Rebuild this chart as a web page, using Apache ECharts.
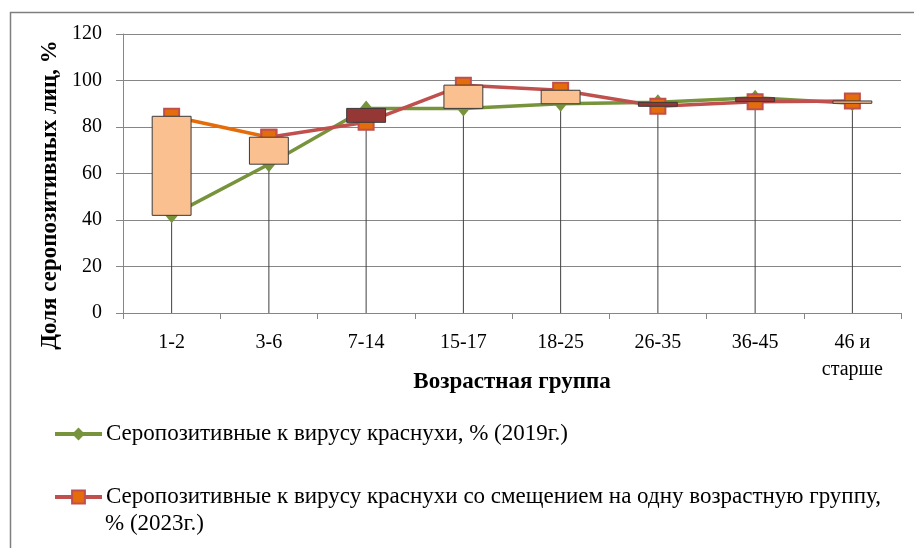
<!DOCTYPE html>
<html><head><meta charset="utf-8">
<script src="https://cdn.jsdelivr.net/npm/echarts@6/dist/echarts.min.js"></script>
<style>html,body{margin:0;padding:0;background:#fff}#c{width:914px;height:548px}</style>
</head><body><div id="c"></div>
<script>
const categories = ['1-2','3-6','7-14','15-17','18-25','26-35','36-45','46 и\nстарше'];
const values2019 = [42, 64, 88, 88, 90, 90.6, 92.6, 90.2];
const values2023 = [84.6, 75.6, 82, 98, 95.8, 88.9, 90.9, 91.2];
const yTicks = [0, 20, 40, 60, 80, 100, 120];
const name2019 = 'Серопозитивные к вирусу краснухи, % (2019г.)';
const name2023 = 'Серопозитивные к вирусу краснухи со смещением на одну возрастную группу,';
const name2023cont = '% (2023г.)';

const FONT = '"Liberation Serif", "Times New Roman", serif';
const GREEN = '#77933C', RED = '#C0504D', ORANGE = '#E46C0A';

const pairData = categories.map((c, i) => [i, values2019[i], values2023[i]]);
const chart = echarts.init(document.getElementById('c'));
chart.setOption({
  animation: false,
  textStyle: { fontFamily: FONT },
  grid: { left: 123, right: 13, top: 34, bottom: 235 },
  xAxis: {
    type: 'category', data: categories, boundaryGap: true,
    axisLine: { lineStyle: { color: '#868686', width: 1 } },
    axisTick: { show: true, length: 6, lineStyle: { color: '#868686' } },
    axisLabel: { color: '#000', fontSize: 20, fontFamily: FONT, margin: 16, lineHeight: 27 },
    name: 'Возрастная группа', nameLocation: 'middle', nameGap: 58, nameMoveOverlap: false,
    nameTextStyle: { color: '#000', fontSize: 23, fontWeight: 'bold', fontFamily: FONT }
  },
  yAxis: {
    type: 'value', min: yTicks[0], max: yTicks[yTicks.length - 1], interval: yTicks[1] - yTicks[0],
    axisLine: { show: true, lineStyle: { color: '#868686' } },
    axisTick: { show: true, length: 7, lineStyle: { color: '#868686' } },
    splitLine: { lineStyle: { color: '#868686', width: 1 } },
    axisLabel: { color: '#000', fontSize: 20, fontFamily: FONT, margin: 21 },
    name: 'Доля серопозитивных лиц, %', nameLocation: 'middle', nameRotate: 90, nameGap: 59,
    nameTextStyle: { color: '#000', fontSize: 23, fontWeight: 'bold', fontFamily: FONT, padding: [0, 43, 0, 0] }
  },
  legend: {
    orient: 'vertical', left: 48, top: 416, itemWidth: 47, itemHeight: 16, itemGap: 37,
    data: [
      { name: name2019, itemStyle: { color: GREEN }, lineStyle: { width: 4, color: GREEN } },
      { name: name2023, itemStyle: { color: ORANGE, borderColor: RED, borderWidth: 2 }, lineStyle: { width: 4, color: RED } }
    ],
    textStyle: { color: '#000', fontSize: 23, fontFamily: FONT, lineHeight: 26, padding: [0, 0, 0, -1] }
  },
  graphic: [
    { type: 'rect', left: 8, top: 10, shape: { width: 1000, height: 1000 }, style: { fill: 'none', stroke: '#7f7f7f', lineWidth: 1.5 }, silent: true, z: -10 },
    { type: 'text', left: 105, top: 512, style: { text: name2023cont, font: '23px ' + FONT, fill: '#000' } }
  ],
  series: [
    {
      type: 'custom', name: 'drop', z: 1, silent: true,
      data: pairData,
      encode: { x: 0, y: [1, 2] },
      renderItem: (params, api) => {
        const i = api.value(0);
        const top = api.coord([i, Math.max(api.value(1), api.value(2))]);
        const bot = api.coord([i, 0]);
        return { type: 'line', shape: { x1: top[0], y1: top[1], x2: bot[0], y2: bot[1] }, style: { stroke: '#404040', lineWidth: 1 } };
      }
    },
    {
      type: 'line', name: name2019, data: values2019, z: 3,
      symbol: 'diamond', symbolSize: [13, 16],
      lineStyle: { color: GREEN, width: 3.5 },
      itemStyle: { color: GREEN }
    },
    {
      type: 'line', name: 'seg2023', data: values2023.map((v, i) => i <= 1 ? v : '-'), z: 3,
      symbol: 'rect', symbolSize: 15,
      lineStyle: { color: ORANGE, width: 3.5 },
      itemStyle: { color: ORANGE, borderColor: RED, borderWidth: 2 }
    },
    {
      type: 'line', name: name2023, data: values2023.map((v, i) => i >= 1 ? v : '-'), z: 4,
      symbol: 'rect', symbolSize: 15,
      lineStyle: { color: RED, width: 3.5 },
      itemStyle: { color: ORANGE, borderColor: RED, borderWidth: 2 }
    },
    {
      type: 'custom', name: 'updown', z: 10, silent: true,
      data: pairData,
      encode: { x: 0, y: [1, 2] },
      renderItem: (params, api) => {
        const i = api.value(0), a = api.value(1), b = api.value(2);
        const p1 = api.coord([i, a]), p2 = api.coord([i, b]);
        const w = api.size([1, 0])[0] * 0.4;
        return {
          type: 'rect',
          shape: { x: p1[0] - w / 2, y: Math.min(p1[1], p2[1]), width: w, height: Math.max(Math.abs(p1[1] - p2[1]), 2) },
          style: { fill: b >= a ? '#FAC090' : '#953735', stroke: '#3a3a3a', lineWidth: 1 }
        };
      }
    }
  ]
});
</script></body></html>
